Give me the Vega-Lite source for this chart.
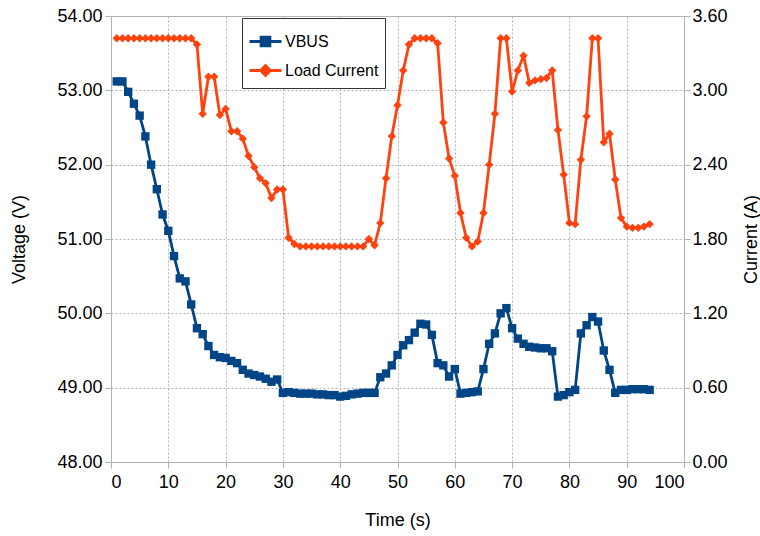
{
  "$schema": "https://vega.github.io/schema/vega-lite/v6.json",
  "width": 573,
  "height": 446,
  "autosize": {"type": "none"},
  "padding": {"left": 111, "top": 16, "right": 76, "bottom": 74},
  "background": "white",
  "config": {
    "font": "Liberation Sans",
    "view": {"stroke": "#b3b3b3", "strokeWidth": 1},
    "axis": {
      "labelFont": "Liberation Sans",
      "titleFont": "Liberation Sans",
      "labelFontSize": 18,
      "titleFontSize": 18,
      "titleFontWeight": "normal",
      "labelColor": "#000000",
      "titleColor": "#000000",
      "domainColor": "#b3b3b3",
      "tickColor": "#b3b3b3",
      "tickSize": 6,
      "gridColor": "#b3b3b3",
      "gridDash": [2, 2],
      "gridWidth": 1
    },
    "legend": {"labelFont": "Liberation Sans"}
  },
  "data": {
    "values": [
      {"t": 1, "vbus": 53.12, "current": 3.42},
      {"t": 2, "vbus": 53.12, "current": 3.42},
      {"t": 3, "vbus": 52.98, "current": 3.42},
      {"t": 4, "vbus": 52.82, "current": 3.42},
      {"t": 5, "vbus": 52.66, "current": 3.42},
      {"t": 6, "vbus": 52.38, "current": 3.42},
      {"t": 7, "vbus": 52.00, "current": 3.42},
      {"t": 8, "vbus": 51.67, "current": 3.42},
      {"t": 9, "vbus": 51.33, "current": 3.42},
      {"t": 10, "vbus": 51.11, "current": 3.42},
      {"t": 11, "vbus": 50.77, "current": 3.42},
      {"t": 12, "vbus": 50.47, "current": 3.42},
      {"t": 13, "vbus": 50.43, "current": 3.42},
      {"t": 14, "vbus": 50.12, "current": 3.42},
      {"t": 15, "vbus": 49.80, "current": 3.37},
      {"t": 16, "vbus": 49.72, "current": 2.81},
      {"t": 17, "vbus": 49.56, "current": 3.11},
      {"t": 18, "vbus": 49.44, "current": 3.11},
      {"t": 19, "vbus": 49.41, "current": 2.80},
      {"t": 20, "vbus": 49.40, "current": 2.85},
      {"t": 21, "vbus": 49.36, "current": 2.67},
      {"t": 22, "vbus": 49.33, "current": 2.67},
      {"t": 23, "vbus": 49.24, "current": 2.61},
      {"t": 24, "vbus": 49.19, "current": 2.47},
      {"t": 25, "vbus": 49.17, "current": 2.38},
      {"t": 26, "vbus": 49.15, "current": 2.29},
      {"t": 27, "vbus": 49.12, "current": 2.25},
      {"t": 28, "vbus": 49.08, "current": 2.13},
      {"t": 29, "vbus": 49.11, "current": 2.20},
      {"t": 30, "vbus": 48.93, "current": 2.20},
      {"t": 31, "vbus": 48.94, "current": 1.81},
      {"t": 32, "vbus": 48.93, "current": 1.76},
      {"t": 33, "vbus": 48.92, "current": 1.74},
      {"t": 34, "vbus": 48.92, "current": 1.74},
      {"t": 35, "vbus": 48.92, "current": 1.74},
      {"t": 36, "vbus": 48.91, "current": 1.74},
      {"t": 37, "vbus": 48.91, "current": 1.74},
      {"t": 38, "vbus": 48.90, "current": 1.74},
      {"t": 39, "vbus": 48.90, "current": 1.74},
      {"t": 40, "vbus": 48.88, "current": 1.74},
      {"t": 41, "vbus": 48.89, "current": 1.74},
      {"t": 42, "vbus": 48.91, "current": 1.74},
      {"t": 43, "vbus": 48.92, "current": 1.74},
      {"t": 44, "vbus": 48.93, "current": 1.74},
      {"t": 45, "vbus": 48.93, "current": 1.80},
      {"t": 46, "vbus": 48.93, "current": 1.75},
      {"t": 47, "vbus": 49.14, "current": 1.93},
      {"t": 48, "vbus": 49.19, "current": 2.29},
      {"t": 49, "vbus": 49.30, "current": 2.63},
      {"t": 50, "vbus": 49.44, "current": 2.88},
      {"t": 51, "vbus": 49.57, "current": 3.16},
      {"t": 52, "vbus": 49.64, "current": 3.37},
      {"t": 53, "vbus": 49.74, "current": 3.42},
      {"t": 54, "vbus": 49.86, "current": 3.42},
      {"t": 55, "vbus": 49.85, "current": 3.42},
      {"t": 56, "vbus": 49.71, "current": 3.42},
      {"t": 57, "vbus": 49.33, "current": 3.38},
      {"t": 58, "vbus": 49.30, "current": 2.74},
      {"t": 59, "vbus": 49.15, "current": 2.45},
      {"t": 60, "vbus": 49.25, "current": 2.31},
      {"t": 61, "vbus": 48.92, "current": 2.01},
      {"t": 62, "vbus": 48.93, "current": 1.81},
      {"t": 63, "vbus": 48.94, "current": 1.74},
      {"t": 64, "vbus": 48.95, "current": 1.78},
      {"t": 65, "vbus": 49.25, "current": 2.01},
      {"t": 66, "vbus": 49.59, "current": 2.40},
      {"t": 67, "vbus": 49.73, "current": 2.81},
      {"t": 68, "vbus": 50.00, "current": 3.42},
      {"t": 69, "vbus": 50.07, "current": 3.42},
      {"t": 70, "vbus": 49.80, "current": 2.99},
      {"t": 71, "vbus": 49.66, "current": 3.16},
      {"t": 72, "vbus": 49.59, "current": 3.28},
      {"t": 73, "vbus": 49.55, "current": 3.06},
      {"t": 74, "vbus": 49.54, "current": 3.08},
      {"t": 75, "vbus": 49.53, "current": 3.09},
      {"t": 76, "vbus": 49.53, "current": 3.10},
      {"t": 77, "vbus": 49.49, "current": 3.16},
      {"t": 78, "vbus": 48.88, "current": 2.68},
      {"t": 79, "vbus": 48.90, "current": 2.32},
      {"t": 80, "vbus": 48.94, "current": 1.93},
      {"t": 81, "vbus": 48.97, "current": 1.92},
      {"t": 82, "vbus": 49.73, "current": 2.44},
      {"t": 83, "vbus": 49.84, "current": 2.79},
      {"t": 84, "vbus": 49.95, "current": 3.42},
      {"t": 85, "vbus": 49.89, "current": 3.42},
      {"t": 86, "vbus": 49.50, "current": 2.58},
      {"t": 87, "vbus": 49.24, "current": 2.65},
      {"t": 88, "vbus": 48.93, "current": 2.28},
      {"t": 89, "vbus": 48.97, "current": 1.97},
      {"t": 90, "vbus": 48.97, "current": 1.90},
      {"t": 91, "vbus": 48.98, "current": 1.89},
      {"t": 92, "vbus": 48.98, "current": 1.89},
      {"t": 93, "vbus": 48.98, "current": 1.90},
      {"t": 94, "vbus": 48.97, "current": 1.92}
    ]
  },
  "encoding": {
    "x": {
      "field": "t",
      "type": "quantitative",
      "title": "Time (s)",
      "scale": {"domain": [0, 100], "nice": false},
      "axis": {
        "values": [0, 10, 20, 30, 40, 50, 60, 70, 80, 90, 100],
        "labelPadding": 5,
        "titlePadding": 20,
        "grid": true
      }
    }
  },
  "layer": [
    {
      "encoding": {
        "y": {
          "field": "vbus",
          "type": "quantitative",
          "title": "Voltage (V)",
          "scale": {"domain": [48, 54], "nice": false, "zero": false},
          "axis": {
            "orient": "left",
            "values": [48, 49, 50, 51, 52, 53, 54],
            "format": ".2f",
            "labelPadding": 3,
            "titlePadding": 28,
            "grid": true
          }
        },
        "color": {
          "datum": "VBUS",
          "type": "nominal",
          "scale": {"domain": ["VBUS", "Load Current"], "range": ["#004586", "#ff420e"]},
          "legend": {
            "title": null,
            "orient": "none",
            "legendX": 131,
            "legendY": 2,
            "padding": 6,
            "strokeColor": "#333333",
            "fillColor": "white",
            "labelFontSize": 16,
            "labelColor": "#000000",
            "symbolSize": 1024,
            "symbolStrokeWidth": 3,
            "rowPadding": 1,
            "labelOffset": 2,
            "encode": {
              "symbols": {
                "update": {
                  "shape": {"signal": "datum.value === 'VBUS' ? 'M-1,0H1M-0.27,-0.27H0.27V0.27H-0.27Z' : 'M-1,0H1M0,-0.3L0.3,0L0,0.3L-0.3,0Z'"},
                  "fill": {"signal": "datum.value === 'VBUS' ? '#004586' : '#ff420e'"},
                  "stroke": {"signal": "datum.value === 'VBUS' ? '#004586' : '#ff420e'"},
                  "strokeWidth": {"value": 3},
                  "opacity": {"value": 1},
                  "fillOpacity": {"value": 1}
                }
              }
            }
          }
        }
      },
      "layer": [
        {"mark": {"type": "line", "strokeWidth": 2.8, "strokeJoin": "round"}},
        {"mark": {"type": "point", "shape": "square", "filled": true, "size": 70, "opacity": 1}}
      ]
    },
    {
      "encoding": {
        "y": {
          "field": "current",
          "type": "quantitative",
          "title": "Current (A)",
          "scale": {"domain": [0, 3.6], "nice": false},
          "axis": {
            "orient": "right",
            "values": [0, 0.6, 1.2, 1.8, 2.4, 3.0, 3.6],
            "format": ".2f",
            "labelPadding": 2,
            "titlePadding": 33,
            "titleAngle": 270,
            "grid": false
          }
        },
        "color": {"datum": "Load Current", "type": "nominal"}
      },
      "layer": [
        {"mark": {"type": "line", "strokeWidth": 2.8, "strokeJoin": "round"}},
        {"mark": {"type": "point", "shape": "diamond", "filled": true, "size": 70, "opacity": 1}}
      ]
    }
  ],
  "resolve": {"scale": {"y": "independent"}}
}
